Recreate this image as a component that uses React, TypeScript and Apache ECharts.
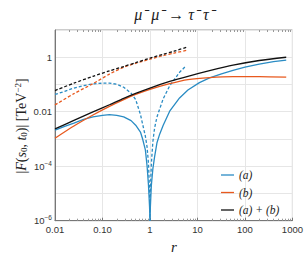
import React, { useEffect, useRef } from "react";
import * as echarts from "echarts";

// ---- data (r, |F| in TeV^-2) ----
const rA = [0.01, 0.016, 0.025, 0.04, 0.063, 0.1, 0.14, 0.2, 0.28, 0.4, 0.5, 0.63, 0.7, 0.8, 0.87, 0.93, 0.98, 1, 1.02, 1.07, 1.15, 1.25, 1.4, 1.6, 1.9, 2.6, 4.2, 6.3, 11, 18, 32, 56, 100, 200, 400, 740];
const aSolid = [2.1e-3, 2.9e-3, 3.8e-3, 5.2e-3, 6.5e-3, 7.4e-3, 7.8e-3, 7.4e-3, 6.5e-3, 4.7e-3, 3.2e-3, 1.8e-3, 1.0e-3, 4.0e-4, 1.0e-4, 2.0e-5, 3.2e-6, 1e-6, 3.2e-6, 2.0e-5, 8.0e-5, 2.2e-4, 7.1e-4, 1.5e-3, 3.2e-3, 0.0105, 0.032, 0.063, 0.117, 0.174, 0.245, 0.33, 0.43, 0.56, 0.69, 0.79];

const rADash = [0.01, 0.016, 0.025, 0.04, 0.063, 0.1, 0.14, 0.2, 0.28, 0.4, 0.5, 0.63, 0.7, 0.8, 0.87, 0.93, 0.98, 1, 1.02, 1.07, 1.15, 1.25, 1.4, 1.6, 1.9, 2.6, 4.2, 5.8];
const aDash = [0.043, 0.056, 0.074, 0.091, 0.105, 0.112, 0.112, 0.102, 0.079, 0.048, 0.028, 7.9e-3, 3.5e-3, 1.26e-3, 5.0e-4, 1.26e-4, 1.26e-5, 1e-6, 1.26e-5, 1.26e-4, 7.9e-4, 2.5e-3, 6.3e-3, 0.0126, 0.03, 0.089, 0.28, 0.49];

const rDash = [0.01, 0.025, 0.063, 0.14, 0.28, 0.5, 1, 1.9, 3.2, 5.8];
const sumDash = [0.06, 0.112, 0.2, 0.316, 0.457, 0.63, 0.93, 1.29, 1.66, 2.3];
const bDash = [0.0178, 0.046, 0.107, 0.24, 0.43, 0.6, 0.85, 1.15, 1.41, 1.78];

const rSolid = [0.01, 0.025, 0.063, 0.14, 0.28, 0.5, 1, 2.6, 6.3, 18, 56, 200, 740];
const sumSolid = [2.35e-3, 4.8e-3, 9.8e-3, 0.018, 0.031, 0.047, 0.074, 0.129, 0.2, 0.32, 0.51, 0.76, 1.0];
const bSolid = [1.07e-3, 3.0e-3, 7.6e-3, 0.0158, 0.028, 0.043, 0.066, 0.107, 0.151, 0.18, 0.195, 0.195, 0.186];

const xTickLabels: Record<string, string> = { "0.01": "0.01", "0.1": "0.10", "1": "1", "10": "10", "100": "100", "1000": "1000" };
const yTickLabels: Record<string, string> = { "1": "1", "0.01": "0.01", "0.0001": "{b|10}{s|−4}", "0.000001": "{b|10}{s|−6}" };
const legendNames = ["(a)", "(b)", "(a) + (b)"];

const BLUE = "#2a8cc4";
const ORANGE = "#e8591e";
const BLACK = "#111111";

const zip = (xs: number[], ys: number[]) => xs.map((x, i) => [x, ys[i]]);

const minorX: number[] = [];
[0.01, 0.1, 1, 10, 100].forEach((d) => {
  for (let k = 2; k <= 9; k++) minorX.push(+(d * k).toPrecision(3));
});

function keyOf(v: number) {
  return String(+v.toPrecision(3));
}

export default function App() {
  const ref = useRef<HTMLDivElement>(null);
  useEffect(() => {
    if (!ref.current) return;
    const chart = echarts.init(ref.current, undefined, { renderer: "svg" });
    const sans = "Liberation Sans";
    const serif = "Liberation Serif";
    const line = (name: string, data: number[][], color: string, dashed: boolean, smooth: boolean) => ({
      name,
      type: "line",
      data,
      symbol: "none",
      showSymbol: false,
      smooth: smooth ? 0.25 : false,
      clip: true,
      lineStyle: { color, width: 1.3, type: dashed ? [3, 2] : "solid" },
      itemStyle: { color },
      z: dashed ? 2 : 3,
    });
    const tx = (size: number, italic: boolean) => ({ fontFamily: serif, fontStyle: italic ? "italic" : "normal", fontSize: size, fill: "#222", color: "#222" });
    chart.setOption({
      animation: false,
      backgroundColor: "#ffffff",
      grid: { left: 55, right: 12.5, top: 30, bottom: 37.3, show: true, borderColor: "#999", borderWidth: 1 },
      legend: {
        data: legendNames,
        orient: "vertical",
        left: 216,
        top: 164,
        itemWidth: 13,
        itemHeight: 10,
        itemGap: 5.5,
        icon: "path://M0,0 L20,0 L20,2 L0,2 Z",
        textStyle: { fontFamily: serif, fontStyle: "italic", fontSize: 11.5, color: "#222" },
      },
      xAxis: [
        {
          type: "log",
          logBase: 10,
          min: 0.01,
          max: 1000,
          axisLine: { show: true, lineStyle: { color: "#777", width: 1 } },
          axisTick: { show: true, inside: true, length: 3, lineStyle: { color: "#777" } },
          axisLabel: {
            fontFamily: sans,
            fontSize: 9.5,
            color: "#333",
            margin: 4,
            formatter: (v: number) => xTickLabels[keyOf(v)] ?? "",
          },
          splitLine: { show: true, lineStyle: { color: "#e6e6e6", width: 1 } },
        },
        {
          type: "log",
          logBase: 10,
          min: 0.01,
          max: 1000,
          position: "bottom",
          axisLine: { show: false },
          axisLabel: { show: false },
          splitLine: { show: false },
          axisTick: { show: true, inside: true, length: 2, customValues: minorX, lineStyle: { color: "#999" } },
        },
        {
          type: "log",
          logBase: 10,
          min: 0.01,
          max: 1000,
          position: "top",
          axisLine: { show: false },
          axisLabel: { show: false },
          splitLine: { show: false },
          axisTick: { show: true, inside: true, length: 2, customValues: minorX, lineStyle: { color: "#999" } },
        },
      ],
      yAxis: [
        {
          type: "log",
          logBase: 10,
          min: 1e-6,
          max: 10,
          axisLine: { show: true, lineStyle: { color: "#777", width: 1 } },
          axisTick: { show: false },
          axisLabel: {
            interval: 1,
            fontFamily: sans,
            fontSize: 9.5,
            color: "#333",
            margin: 3,
            formatter: (v: number) => yTickLabels[keyOf(v)] ?? "",
            rich: {
              b: { fontFamily: sans, fontSize: 9.5, color: "#333" },
              s: { fontFamily: sans, fontSize: 6.5, color: "#333", padding: [0, 0, 6, 0] },
            },
          },
          splitLine: { show: true, interval: 1, lineStyle: { color: "#e6e6e6", width: 1 } },
        },
      ],
      series: [
        line("(a)", zip(rA, aSolid), BLUE, false, false),
        line("(a) dashed", zip(rADash, aDash), BLUE, true, false),
        line("(b)", zip(rSolid, bSolid), ORANGE, false, true),
        line("(b) dashed", zip(rDash, bDash), ORANGE, true, true),
        line("(a) + (b)", zip(rSolid, sumSolid), BLACK, false, true),
        line("(a) + (b) dashed", zip(rDash, sumDash), BLACK, true, true),
      ],
      graphic: [
        {
          type: "text",
          x: 174,
          y: 14,
          style: {
            text: "μ⁻ μ⁻ → τ⁻ τ⁻",
            fontFamily: serif,
            fontStyle: "italic",
            fontSize: 16,
            fill: "#222",
            align: "center",
            verticalAlign: "middle",
          },
        },
        {
          type: "text",
          x: 174,
          y: 247,
          style: { text: "r", fontFamily: serif, fontStyle: "italic", fontSize: 15, fill: "#222", align: "center", verticalAlign: "middle" },
        },
        {
          type: "text",
          x: 21,
          y: 126,
          rotation: Math.PI / 2,
          style: {
            text: "{n||}{i|F}{n|(}{i|s}{sb|0}{n|, }{i|t}{sb|0}{n|)| [TeV}{sp|−2}{n|]}",
            align: "center",
            verticalAlign: "middle",
            rich: {
              n: tx(14, false),
              i: tx(14, true),
              sb: { ...tx(9, false), padding: [5, 0, 0, 0] },
              sp: { ...tx(9, false), padding: [0, 0, 6, 0] },
            },
          },
        },
      ],
    });
    return () => chart.dispose();
  }, []);
  return <div ref={ref} style={{ width: 306, height: 258, position: "absolute", left: 0, top: 0 }} />;
}
